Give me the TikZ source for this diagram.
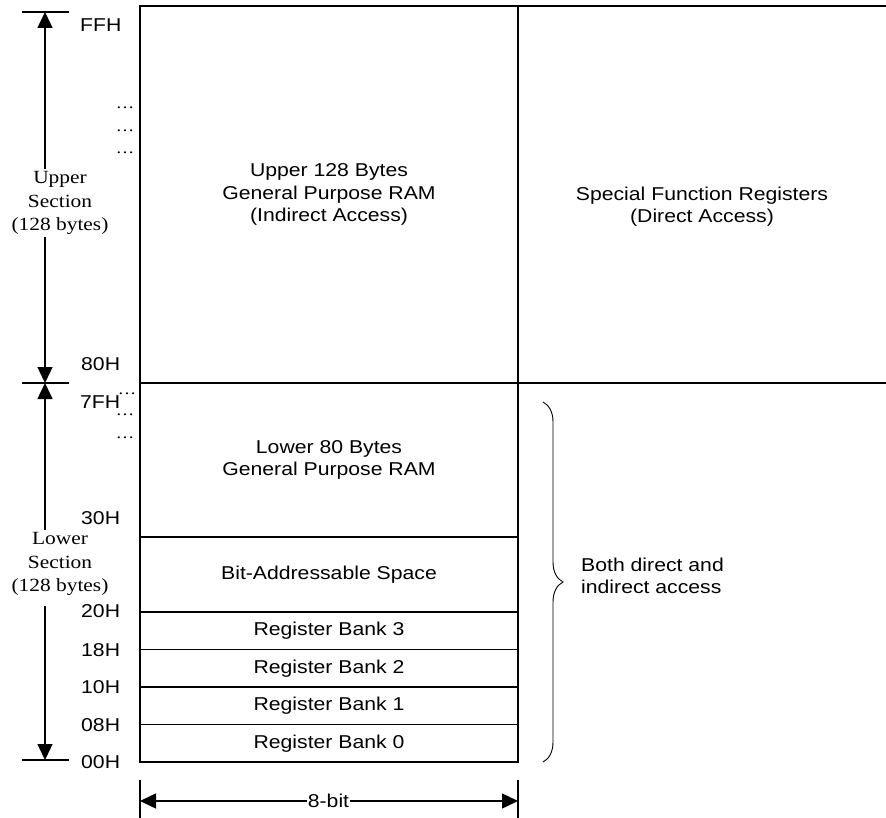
\documentclass[tikz,border=0pt]{standalone}
\usepackage{fontspec}
\setmainfont{Liberation Sans}[FakeStretch=1.14]
\newfontfamily\labelserif{Liberation Serif}[FakeStretch=1.15]
\usetikzlibrary{arrows.meta,decorations.pathreplacing,calc}

\tikzset{
  wall/.style={line width=1.4pt},
  region/.style={draw, line width=1.4pt, rectangle, inner sep=0pt, outer sep=0pt,
    minimum width=378pt, anchor=north west, align=center,
    font=\fontsize{18.6}{22.5}\selectfont},
  plain/.style={align=center, inner sep=0pt, font=\fontsize{18.6}{22.5}\selectfont},
  addr/.style={anchor=west, inner sep=0pt, font=\fontsize{18.6}{22}\selectfont},
  sect/.style={align=center, inner sep=2pt, font=\labelserif\fontsize{18.6}{23.5}\selectfont},
  dimarrow/.style={line width=1.4pt, -{Triangle[length=16pt,width=15pt]}},
  tick/.style={line width=1.4pt},
  gap/.style={font=\labelserif\fontsize{16}{16}\selectfont, inner sep=0pt, anchor=base},
}

\begin{document}
\begin{tikzpicture}[x=1pt,y=-1pt]
\useasboundingbox (0,0) rectangle (886,818);

% memory regions
\node[region, minimum height=377pt] (upper) at (140,6)
  {Upper 128 Bytes\\General Purpose RAM\\(Indirect Access)};
\node[region, draw=none, minimum width=368pt, minimum height=377pt] (sfr) at (upper.north east) {};
\node[plain] (sfrtext) at ([yshift=-12pt]sfr.center) {Special Function Registers\\(Direct Access)};
\draw[wall] (upper.north east) -- (sfr.north east);
\draw[wall] (upper.south east) -- (sfr.south east);

\node[region, minimum height=154pt] (lower) at (upper.south west)
  {Lower 80 Bytes\\General Purpose RAM};
\node[region, minimum height=75pt] (bitaddr) at (lower.south west) {Bit-Addressable Space};
\node[region, minimum height=37.5pt] (bank3) at (bitaddr.south west) {Register Bank 3};
\node[region, minimum height=37.5pt] (bank2) at (bank3.south west) {Register Bank 2};
\node[region, minimum height=37.5pt] (bank1) at (bank2.south west) {Register Bank 1};
\node[region, minimum height=37.5pt] (bank0) at (bank1.south west) {Register Bank 0};

% addresses
\node[addr] (aFF) at (80,25) {FFH};
\node[addr] (a80) at (81,364.5) {80H};
\node[addr] (a7F) at (80,402) {7FH};
\node[addr] (a30) at (81,518) {30H};
\node[addr] (a20) at (81,611) {20H};
\node[addr] (a18) at (81,650) {18H};
\node[addr] (a10) at (81,687) {10H};
\node[addr] (a08) at (81,725) {08H};
\node[addr] (a00) at (81,762) {00H};

% elided addresses
\node[gap] (d1) at (125,109) {…};
\node[gap] (d2) at (125,132) {…};
\node[gap] (d3) at (125,154) {…};
\node[gap] (d4) at (127,394) {…};
\node[gap] (d5) at (125,415) {…};
\node[gap] (d6) at (125,438) {…};

% section extents
\coordinate (tTopL) at (22,12);  \coordinate (tTopR) at (69,12);
\coordinate (tMidL) at (22,383); \coordinate (tMidR) at (69,383);
\coordinate (tBotL) at (22,760); \coordinate (tBotR) at (69,760);
\coordinate (tipTop) at (45,12);
\coordinate (tipMid) at (45,383);
\coordinate (tipBot) at (45,760);
\draw[tick] (tTopL) -- (tTopR);
\draw[tick] (tMidL) -- (tMidR);
\draw[tick] (tBotL) -- (tBotR);

\node[sect] (usec) at (60,203) {Upper\\Section\\(128 bytes)};
\node[sect] (lsec) at (60,564) {Lower\\Section\\(128 bytes)};
\draw[dimarrow] (tipTop |- usec.north) -- (tipTop);
\draw[dimarrow] (tipTop |- usec.south) -- (tipMid);
\draw[dimarrow] (tipTop |- lsec.north) -- (tipMid);
\draw[dimarrow] ([yshift=-8pt]tipTop |- lsec.south) -- (tipBot);

% shared access range
\coordinate (bTop) at (543,402);
\coordinate (bBot) at (543,762);
\draw[line width=0.9pt, decorate, decoration={brace, amplitude=20pt}] (bTop) -- (bBot);
\node[plain, anchor=west, align=left] (both) at (581,576) {Both direct and\\indirect access};

% word width
\coordinate (wTopL) at (140,780); \coordinate (wBotL) at (140,818);
\coordinate (wTopR) at (518,780); \coordinate (wBotR) at (518,818);
\coordinate (wL) at (140,801); \coordinate (wR) at (518,801);
\draw[tick] (wTopL) -- (wBotL);
\draw[tick] (wTopR) -- (wBotR);
\node[plain, inner sep=1pt] (bits) at (328.5,801) {8-bit};
\draw[dimarrow] (bits.west) -- (wL);
\draw[dimarrow] (bits.east) -- (wR);
\end{tikzpicture}
\end{document}
